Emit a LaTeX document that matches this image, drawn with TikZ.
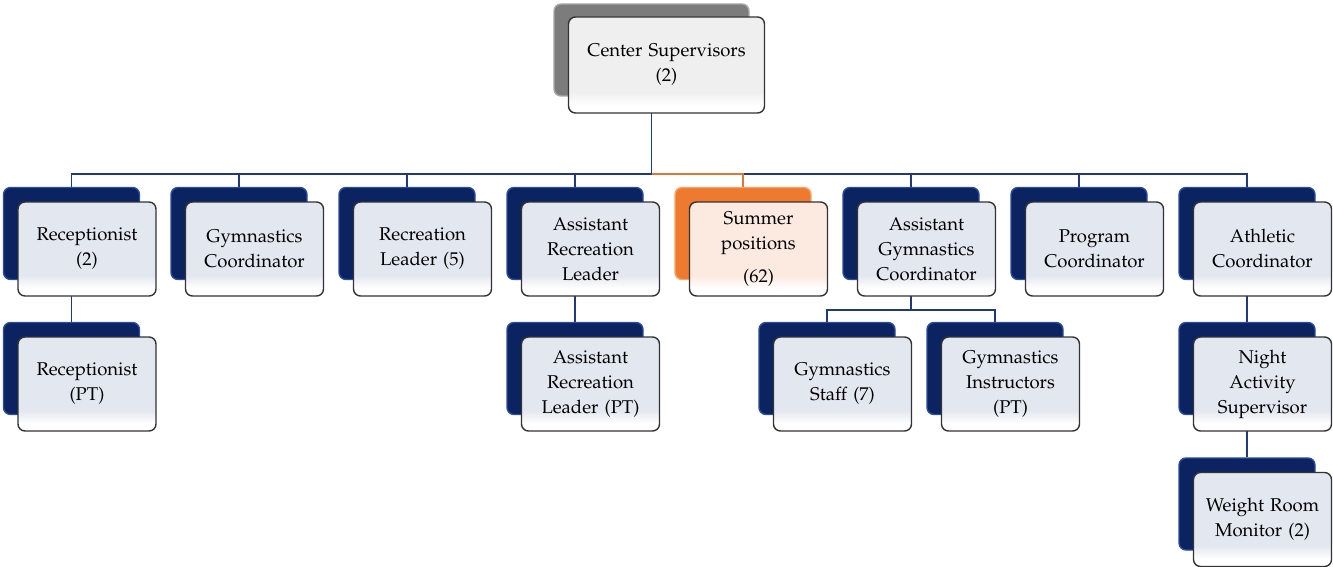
\documentclass[tikz,border=0pt]{standalone}
\usepackage[T1]{fontenc}
\usepackage{mathpazo}
\usepackage{tikz}
\usetikzlibrary{positioning}

\definecolor{navyback}{HTML}{0C2362}
\definecolor{navyrim}{HTML}{2C4C9C}
\definecolor{linkblue}{HTML}{1F3A78}
\definecolor{paleblue}{HTML}{E3E7EF}
\definecolor{greyback}{HTML}{7C7C7C}
\definecolor{greyrim}{HTML}{A8A8A8}
\definecolor{palegrey}{HTML}{EFEFEF}
\definecolor{orangeback}{HTML}{EE7A30}
\definecolor{orangerim}{HTML}{F7A566}
\definecolor{palepeach}{HTML}{FCEAE0}
\definecolor{orangelink}{HTML}{D9783A}

\pgfdeclareverticalshading{bluebevel}{100bp}{color(0bp)=(white); color(29bp)=(white); color(36bp)=(paleblue); color(100bp)=(paleblue)}
\pgfdeclareverticalshading{greybevel}{100bp}{color(0bp)=(white); color(29bp)=(white); color(36bp)=(palegrey); color(100bp)=(palegrey)}
\pgfdeclareverticalshading{peachbevel}{100bp}{color(0bp)=(white); color(29bp)=(white); color(36bp)=(palepeach); color(100bp)=(palepeach)}

\tikzset{
  backbox/.style={draw=navyrim, fill=navyback, line width=1.4pt, rounded corners=7pt,
    minimum width=136pt, minimum height=92pt},
  frontbox/.style={draw=black!80, line width=1.4pt, rounded corners=7pt, shading=bluebevel,
    text width=132pt, inner xsep=3pt, minimum height=94pt, align=center, text=black,
    font=\fontsize{18.5}{25}\selectfont},
  link/.style={draw=linkblue, line width=1.8pt}
}

\begin{document}
\begin{tikzpicture}[x=1pt,y=-1pt]
\useasboundingbox (0,0) rectangle (1333,567);
\coordinate (bus) at (0,174);
\coordinate (subbus) at (0,310);

% back boxes
\node[backbox, draw=greyrim, fill=greyback, minimum width=195pt] (supB) at (651.5,50) {};
\node[backbox] (recepB) at (71.5,233.5) {};
\node[backbox] (gymB) at (239,233.5) {};
\node[backbox] (recB) at (407,233.5) {};
\node[backbox] (asstrecB) at (575,233.5) {};
\node[backbox, draw=orangerim, fill=orangeback] (summerB) at (743,233.5) {};
\node[backbox] (asstgymB) at (911,233.5) {};
\node[backbox] (progB) at (1079,233.5) {};
\node[backbox] (athB) at (1247,233.5) {};
\node[backbox] (recepptB) at (71.5,368.5) {};
\node[backbox] (asstrecptB) at (575,368.5) {};
\node[backbox] (gymstaffB) at (827,368.5) {};
\node[backbox] (gyminstrB) at (995,368.5) {};
\node[backbox] (nightB) at (1247,368.5) {};
\node[backbox] (weightB) at (1247,504) {};

% connectors
\foreach \n in {recepB,gymB,recB,asstrecB,asstgymB,progB,athB}
  \draw[link] (supB.south) -- (supB.south |- bus) -| (\n.north);
\draw[link, draw=orangelink] (supB.south |- bus) -| (summerB.north);
\draw[link] (recepB.south) -- (recepptB.north);
\draw[link] (asstrecB.south) -- (asstrecptB.north);
\draw[link] (asstgymB.south) -- (asstgymB.south |- subbus) -| (gymstaffB.north);
\draw[link] (asstgymB.south |- subbus) -| (gyminstrB.north);
\draw[link] (athB.south) -- (nightB.north);
\draw[link] (nightB.south) -- (weightB.north);

% front boxes
\node[frontbox, shading=greybevel, text width=190pt, minimum height=96pt] (sup)
  at ([shift={(15,15)}]supB) {Center Supervisors\\(2)};
\node[frontbox] (recep) at ([shift={(15.5,15.5)}]recepB) {Receptionist\\(2)};
\node[frontbox] (gym) at ([shift={(15.5,15.5)}]gymB) {Gymnastics\\Coordinator};
\node[frontbox] (rec) at ([shift={(15.5,15.5)}]recB) {Recreation\\Leader (5)};
\node[frontbox] (asstrec) at ([shift={(15.5,15.5)}]asstrecB) {Assistant\\Recreation\\Leader};
\node[frontbox, shading=peachbevel] (summer) at ([shift={(15.5,15.5)}]summerB) {Summer\\positions\\[8pt](62)};
\node[frontbox] (asstgym) at ([shift={(15.5,15.5)}]asstgymB) {Assistant\\Gymnastics\\Coordinator};
\node[frontbox] (prog) at ([shift={(15.5,15.5)}]progB) {Program\\Coordinator};
\node[frontbox] (ath) at ([shift={(15.5,15.5)}]athB) {Athletic\\Coordinator};
\node[frontbox] (receppt) at ([shift={(15.5,15.5)}]recepptB) {Receptionist\\(PT)};
\node[frontbox] (asstrecpt) at ([shift={(15.5,15.5)}]asstrecptB) {Assistant\\Recreation\\Leader (PT)};
\node[frontbox] (gymstaff) at ([shift={(15.5,15.5)}]gymstaffB) {Gymnastics\\Staff (7)};
\node[frontbox] (gyminstr) at ([shift={(15.5,15.5)}]gyminstrB) {Gymnastics\\Instructors\\(PT)};
\node[frontbox] (night) at ([shift={(15.5,15.5)}]nightB) {Night\\Activity\\Supervisor};
\node[frontbox] (weight) at ([shift={(15.5,15.5)}]weightB) {Weight Room\\Monitor (2)};
\end{tikzpicture}
\end{document}
